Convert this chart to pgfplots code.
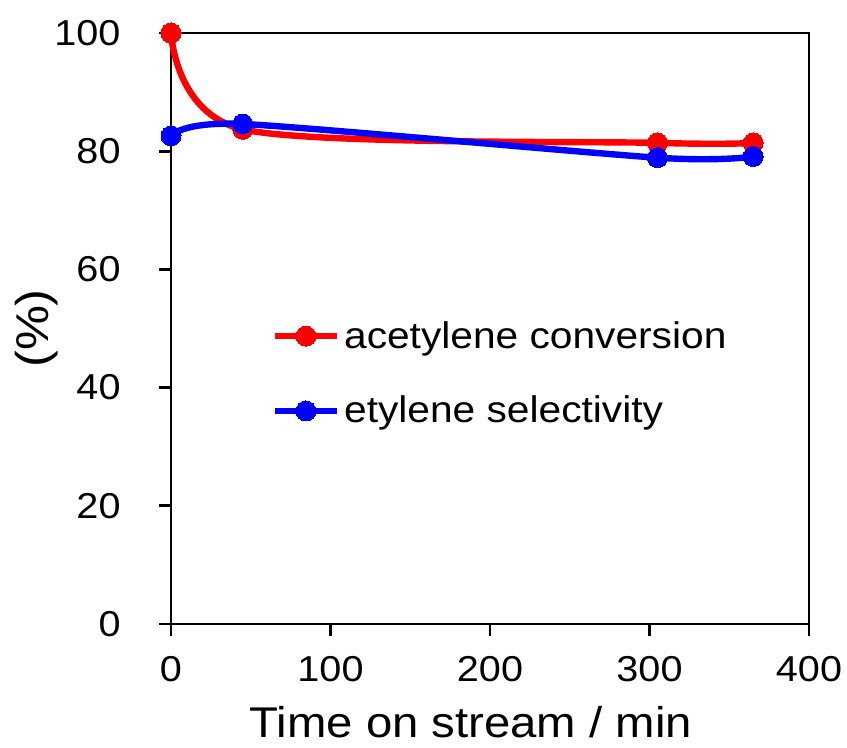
\documentclass[border=0pt]{standalone}
\usepackage{fontspec}
\setmainfont{Liberation Sans}[FakeStretch=1.1]
\usepackage{pgfplots}
\pgfplotsset{compat=1.18}
\begin{document}
\begin{tikzpicture}
\begin{axis}[
  scale only axis, width=319pt, height=295.5pt,
  xmin=0, xmax=400, ymin=0, ymax=100,
  xtick={0,100,...,400}, ytick={0,20,...,100},
  tick align=outside, tick pos=left,
  axis line style={line width=1.4pt},
  major tick style={line width=1.4pt, black},
  major tick length=6pt,
  /pgf/number format/assume math mode=true,
  ticklabel style={font=\fontsize{18}{18}\selectfont},
  xticklabel style={yshift=-6.7pt},
  yticklabel style={xshift=-15.7pt},
  label style={font=\fontsize{23}{23}\selectfont},
  xlabel={Time on stream / min},
  xlabel style={at={(rel axis cs:0.47,0)}, anchor=north, yshift=-37.5pt, font=\fontsize{21.5}{21.5}\selectfont},
  ylabel={(\%)},
  ylabel style={at={(rel axis cs:-0.21,0.5)}, anchor=center},
  clip=false,
  legend style={at={(axis cs:62.9,51.3)}, anchor=north west, draw=none, fill=none,
    font=\fontsize{18.5}{18.5}\selectfont, row sep=22.5pt, inner sep=0pt,
    nodes={inner sep=0pt}, column sep=2pt,
    cells={anchor=west}},
  legend image code/.code={\draw[mark repeat=2,mark phase=2,#1] plot coordinates {(0pt,0pt)(15.5pt,0pt)(31pt,0pt)};},
]
\addplot[red, line width=3.2pt, smooth, tension=0.5, mark=*, mark size=5pt, mark options={solid, fill=red, draw=red, line width=0pt}]
  coordinates {(0,100) (45,83.7) (305,81.4) (365,81.4)};
\addlegendentry{acetylene conversion}
\addplot[blue, line width=3.2pt, smooth, tension=0.45, mark=*, mark size=5pt, mark options={solid, fill=blue, draw=blue, line width=0pt}]
  coordinates {(0,82.6) (45,84.6) (305,78.9) (365,79.1)};
\addlegendentry{etylene selectivity}
\end{axis}
\pgfresetboundingbox
\path[use as bounding box] ([shift={(-85.5pt,-61.5pt)}]current axis.south west) rectangle ([shift={(19pt,16.5pt)}]current axis.north east);
\end{tikzpicture}
\end{document}
